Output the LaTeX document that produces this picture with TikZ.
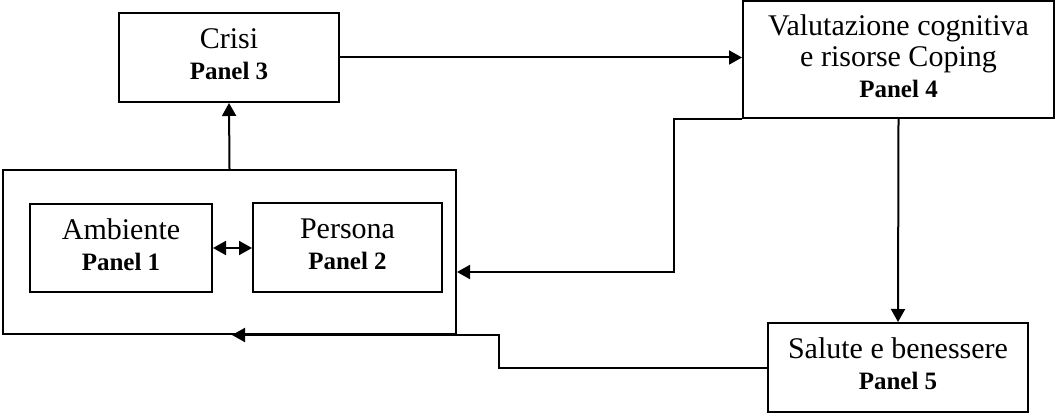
\documentclass[tikz,border=0pt]{standalone}
\usepackage{fontspec}
\setmainfont{Liberation Serif}
\usetikzlibrary{arrows.meta}

\tikzset{
  box/.style={draw, line width=2pt, rectangle, inner sep=0pt, align=center,
    font=\fontsize{30}{31}\selectfont, text depth=7pt},
  arr/.style={line width=2pt, -{Triangle[length=13pt,width=14pt]}},
  dblarr/.style={line width=2pt, {Triangle[length=13pt,width=14pt]}-{Triangle[length=13pt,width=14pt]}},
}
\newcommand{\pnl}[1]{{\fontsize{25}{31}\selectfont\bfseries Panel #1}}

\begin{document}
\begin{tikzpicture}[x=1pt,y=-1pt]
  \useasboundingbox (0,0) rectangle (1056,417);

  % outer frame holding environment and person
  \node[box, minimum width=453pt, minimum height=164pt] (big) at (229.5,252) {};
  \node[box, minimum width=182pt, minimum height=88pt] (amb) at (121,248) {Ambiente\\\pnl{1}};
  \node[box, minimum width=189pt, minimum height=89pt] (pers) at (347.5,247.5) {Persona\\\pnl{2}};

  % crisis, appraisal and outcome
  \node[box, minimum width=220pt, minimum height=89pt] (crisi) at (229,57.5) {Crisi\\\pnl{3}};
  \node[box, minimum width=311pt, minimum height=117pt] (val) at (898.5,59.5)
    {Valutazione cognitiva\\e risorse Coping\\\pnl{4}};
  \node[box, minimum width=260pt, minimum height=89pt] (sal) at (898,367.5)
    {Salute e benessere\\\pnl{5}};

  % connectors
  \draw[dblarr] (amb.east) -- (amb.east -| pers.west);
  \draw[arr] (big.north) -- (crisi.south);
  \draw[arr] (crisi.east) -- (crisi.east -| val.west);
  \draw[arr] (val.south) -- (sal.north);
  \draw[arr] (val.south west) -- ++(-68,0) |- ([yshift=-20pt]big.east);
  \draw[arr] (sal.west) -- ++(-268,0) |- ([xshift=2.5pt]big.south);
\end{tikzpicture}
\end{document}
